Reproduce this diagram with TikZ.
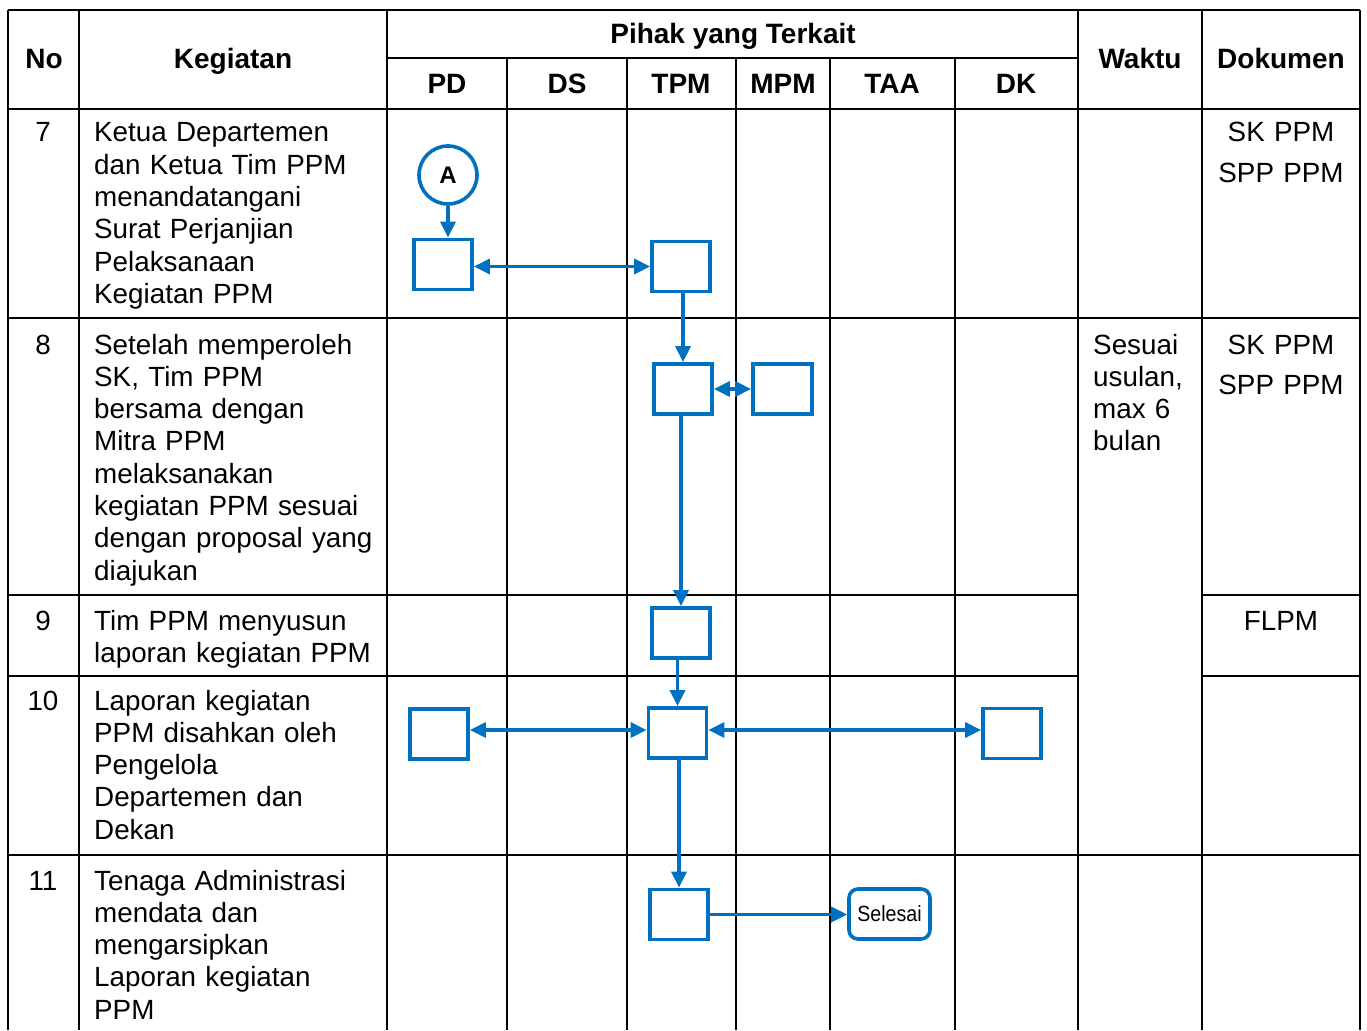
\documentclass[tikz,border=0pt]{standalone}
\usepackage{fontspec}
\setmainfont{Liberation Sans}
\newfontfamily\narrowsans[FakeStretch=0.89]{Liberation Sans}
\usetikzlibrary{arrows.meta,calc}
\definecolor{flowblue}{RGB}{0,112,192}
\tikzset{
  gridline/.style={line width=1.9pt, black},
  box/.style={draw=flowblue, line width=3.8pt, minimum width=58pt, minimum height=50pt, inner sep=0pt, fill=white},
  conn/.style={draw=flowblue, line width=3.4pt, -{Triangle[length=16pt,width=15pt]}},
  conn2/.style={draw=flowblue, line width=3.4pt, {Triangle[length=16pt,width=15pt]}-{Triangle[length=16pt,width=15pt]}},
  body/.style={font=\fontsize{27.8}{32.3}\selectfont, inner sep=0pt, anchor=base west, text width=300pt, align=left},
  doc/.style={font=\fontsize{27.8}{40}\selectfont, inner sep=0pt, anchor=base, text width=150pt, align=center},
  num/.style={font=\fontsize{27.8}{32.3}\selectfont, inner sep=0pt, anchor=base},
  head/.style={font=\fontsize{28}{32.3}\selectfont\bfseries, inner sep=0pt, anchor=base},
}
\begin{document}
\begin{tikzpicture}[x=1pt,y=-1pt]
\useasboundingbox (0,0) rectangle (1367,1030);
% grid
\draw[gridline] (8,10) -- (1360,10);
\draw[gridline] (387,58) -- (1078,58);
\draw[gridline] (8,109) -- (1360,109);
\draw[gridline] (8,318) -- (1360,318);
\draw[gridline] (8,595) -- (1078,595) (1202,595) -- (1360,595);
\draw[gridline] (8,676) -- (1078,676) (1202,676) -- (1360,676);
\draw[gridline] (8,855) -- (1360,855);
\foreach \x in {8,79,387,1078,1202,1360} \draw[gridline] (\x,10) -- (\x,1030);
\foreach \x in {507,627,736,830,955} \draw[gridline] (\x,58) -- (\x,1030);
% headers
\node[head] (hno) at (44,69) {No};
\node[head] (hkeg) at (233,69) {Kegiatan};
\node[head] (hpihak) at (733,44) {Pihak yang Terkait};
\node[head] (hpd) at (447,94) {PD};
\node[head] (hds) at (567,94) {DS};
\node[head] (htpm) at (681,94) {TPM};
\node[head] (hmpm) at (783,94) {MPM};
\node[head] (htaa) at (892,94) {TAA};
\node[head] (hdk) at (1016,94) {DK};
\node[head] (hwaktu) at (1140,69) {Waktu};
\node[head] (hdok) at (1281,69) {Dokumen};
% row texts
\node[num] (n7) at (43,142) {7};
\node[num] (n8) at (43,354) {8};
\node[num] (n9) at (43,630) {9};
\node[num] (n10) at (43,710) {10};
\node[num] (n11) at (43,890) {11};
\node[body] (k7) at (94,142) {Ketua Departemen\\dan Ketua Tim PPM\\menandatangani\\Surat Perjanjian\\Pelaksanaan\\Kegiatan PPM};
\node[body] (k8) at (94,354) {Setelah memperoleh\\SK, Tim PPM\\bersama dengan\\Mitra PPM\\melaksanakan\\kegiatan PPM sesuai\\dengan proposal yang\\diajukan};
\node[body] (k9) at (94,630) {Tim PPM menyusun\\laporan kegiatan PPM};
\node[body] (k10) at (94,710) {Laporan kegiatan\\PPM disahkan oleh\\Pengelola\\Departemen dan\\Dekan};
\node[body] (k11) at (94,890) {Tenaga Administrasi\\mendata dan\\mengarsipkan\\Laporan kegiatan\\PPM};
\node[body, text width=110pt] (w8) at (1093,354) {Sesuai\\usulan,\\max 6\\bulan};
\node[doc] (d7) at (1281,142) {SK PPM\\SPP PPM};
\node[doc] (d8) at (1281,354) {SK PPM\\SPP PPM};
\node[doc] (d9) at (1281,630) {FLPM};
% flow shapes
\node[circle, draw=flowblue, line width=3.6pt, minimum size=58pt, inner sep=0pt, fill=white, font=\fontsize{24}{28}\selectfont\bfseries] (A) at (448,175) {A};
\node[box] (b7pd) at (443,264.5) {};
\node[box] (b7tpm) at (681,266.5) {};
\node[box] (b8tpm) at (683,389) {};
\node[box, minimum width=59pt] (b8mpm) at (782.5,389) {};
\node[box] (b9tpm) at (681,633) {};
\node[box] (b10pd) at (439,734) {};
\node[box] (b10tpm) at (677.5,733) {};
\node[box] (b10dk) at (1012,733.5) {};
\node[box] (b11tpm) at (679,914.5) {};
\node[draw=flowblue, line width=3.6pt, rounded corners=9pt, minimum width=81pt, minimum height=50pt, inner sep=0pt, fill=white, font=\fontsize{22}{26}\selectfont\narrowsans] (selesai) at (889.5,914) {Selesai};
% connectors
\draw[conn] (A.south) -- (A.south |- b7pd.north);
\draw[conn2] (b7tpm.west) -- (b7tpm.west -| b7pd.east);
\draw[conn] (b8tpm.north |- b7tpm.south) -- (b8tpm.north);
\draw[conn2] (b8tpm.east) -- (b8mpm.west);
\draw[conn] (b9tpm.north |- b8tpm.south) -- (b9tpm.north);
\draw[conn] (b10tpm.north |- b9tpm.south) -- (b10tpm.north);
\draw[conn2] ($(b10tpm.west)+(0,-3)$) -- ($(b10tpm.west -| b10pd.east)+(0,-3)$);
\draw[conn2] ($(b10tpm.east)+(0,-3)$) -- ($(b10tpm.east -| b10dk.west)+(0,-3)$);
\draw[conn] (b11tpm.north |- b10tpm.south) -- (b11tpm.north);
\draw[conn] (b11tpm.east) -- (b11tpm.east -| selesai.west);
\end{tikzpicture}
\end{document}
